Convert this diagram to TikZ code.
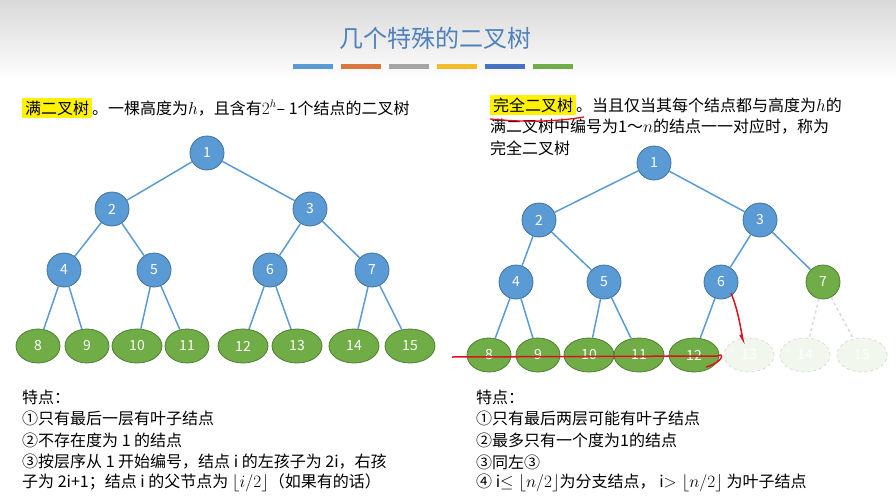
\documentclass[tikz,border=0pt]{standalone}
\usepackage{fontspec}
\setmainfont{Noto Sans CJK SC}
\usetikzlibrary{shapes.geometric,arrows.meta}
\definecolor{nblue}{HTML}{5B9BD5}\definecolor{nbd}{HTML}{41719C}
\definecolor{ngreen}{HTML}{70AD47}\definecolor{ngd}{HTML}{507E32}
\definecolor{ttl}{HTML}{4F81BD}\definecolor{ered}{HTML}{E0101E}
\definecolor{b1}{HTML}{5B9BD5}\definecolor{b2}{HTML}{D9773F}\definecolor{b3}{HTML}{A5A5A5}
\definecolor{b4}{HTML}{F2BC2C}\definecolor{b5}{HTML}{4472C4}\definecolor{b6}{HTML}{70AD47}
\begin{document}
\begin{tikzpicture}[x=1pt,y=-1pt,
 inn/.style={circle,fill=nblue,draw=nbd,thick,minimum size=34pt,inner sep=0pt,text=white,font=\fontsize{14}{14}\selectfont},
 leaf/.style={ellipse,fill=ngreen,draw=ngd,thick,minimum width=44pt,minimum height=34pt,inner sep=0pt,text=white,font=\fontsize{14}{14}\selectfont},
 wleaf/.style={leaf,minimum width=50pt},
 gl/.style={circle,fill=ngreen,draw=ngd,thick,minimum size=34pt,inner sep=0pt,text=white,font=\fontsize{14}{14}\selectfont},
 ghost/.style={ellipse,fill=ngreen!10,draw=gray!30,dashed,thick,minimum width=50pt,minimum height=34pt,inner sep=0pt,text=white,font=\fontsize{14}{14}\selectfont},
 ed/.style={draw=nblue,line width=1.5pt},
 ged/.style={draw=gray!30,dashed,line width=1.5pt},
 txt/.style={anchor=west,inner sep=0pt,font=\fontsize{16}{16}\selectfont},
 hl/.style={fill=yellow,inner sep=1pt}]
\useasboundingbox (0,0) rectangle (896,500);
\shade[top color=gray!30,bottom color=white] (0,0) rectangle (896,80);
\node[text=ttl,font=\fontsize{24}{24}\selectfont] (title) at (435,38) {几个特殊的二叉树};
\foreach \c [count=\i] in {b1,b2,b3,b4,b5,b6}
  \fill[\c] ({293+(\i-1)*48},64) rectangle ({333+(\i-1)*48},69);
% left header
\node[txt] (lh) at (22,108) {\colorbox{yellow}{满二叉树}。一棵高度为$h$，且含有$2^h$– 1个结点的二叉树};
% left tree
\node[inn] (a1) at (207,153) {1};
\node[inn] (a2) at (112,209) {2};
\node[inn] (a3) at (310,209) {3};
\node[inn] (a4) at (64,270) {4};
\node[inn] (a5) at (154,270) {5};
\node[inn] (a6) at (270,270) {6};
\node[inn] (a7) at (372,270) {7};
\node[leaf] (a8) at (38,346) {8};
\node[leaf] (a9) at (87,346) {9};
\node[wleaf] (a10) at (137,346) {10};
\node[leaf] (a11) at (187,346) {11};
\node[wleaf] (a12) at (243,346) {12};
\node[wleaf] (a13) at (297,346) {13};
\node[wleaf] (a14) at (354,346) {14};
\node[wleaf] (a15) at (410,346) {15};
\foreach \p/\c in {1/2,1/3,2/4,2/5,3/6,3/7,4/8,4/9,5/10,5/11,6/12,6/13,7/14,7/15}
  \path[ed] (a\p) -- (a\c);
% right header
\node[txt] (rh1) at (490,105) {\colorbox{yellow}{完全二叉树}。当且仅当其每个结点都与高度为$h$的};
\node[txt] (rh2) at (490,127) {满二叉树中编号为1～$n$的结点一一对应时，称为};
\node[txt] (rh3) at (490,148) {完全二叉树};
\draw[ered,line width=1.3pt] (490,119) .. controls (530,123) and (560,121) .. (584,117);
% right tree
\node[inn] (b1) at (654,163) {1};
\node[inn] (b2) at (539,220) {2};
\node[inn] (b3) at (760,220) {3};
\node[inn] (b4) at (516,282) {4};
\node[inn] (b5) at (604,282) {5};
\node[inn] (b6) at (721,282) {6};
\node[gl] (b7) at (823,282) {7};
\node[leaf] (b8) at (489,355) {8};
\node[leaf] (b9) at (538,355) {9};
\node[wleaf] (b10) at (589,355) {10};
\node[wleaf] (b11) at (639,355) {11};
\node[wleaf] (b12) at (694,355) {12};
\node[ghost] (b13) at (749,355) {13};
\node[ghost] (b14) at (805,355) {14};
\node[ghost] (b15) at (862,355) {15};
\foreach \p/\c in {1/2,1/3,2/4,2/5,3/6,3/7,4/8,4/9,5/10,5/11,6/12}
  \path[ed] (b\p) -- (b\c);
\path[ged] (b7) -- (b14);
\path[ged] (b7) -- (b15);
% red annotations
\draw[ered,line width=1.5pt] (452,357) -- (718,356) .. controls (724,352) and (724,362) .. (706,367);
\draw[ered,line width=1.5pt] (731,293) .. controls (738,310) and (740,325) .. (743,340) -- (740,335);
% bottom text left
\node[txt] (l1) at (22,397) {特点：};
\node[txt] (l2) at (22,418) {①只有最后一层有叶子结点};
\node[txt] (l3) at (22,440) {②不存在度为 1 的结点};
\node[txt] (l4) at (22,462) {③按层序从 1 开始编号，结点 i 的左孩子为 2i，右孩};
\node[txt] (l5) at (22,483) {子为 2i+1；结点 i 的父节点为 $\lfloor i/2\rfloor$（如果有的话）};
% bottom text right
\node[txt] (r1) at (476,397) {特点：};
\node[txt] (r2) at (476,418) {①只有最后两层可能有叶子结点};
\node[txt] (r3) at (476,440) {②最多只有一个度为1的结点};
\node[txt] (r4) at (476,462) {③同左③};
\node[txt] (r5) at (476,483) {④ i$\le\lfloor n/2\rfloor$为分支结点， i$>\lfloor n/2\rfloor$ 为叶子结点};
\end{tikzpicture}
\end{document}
